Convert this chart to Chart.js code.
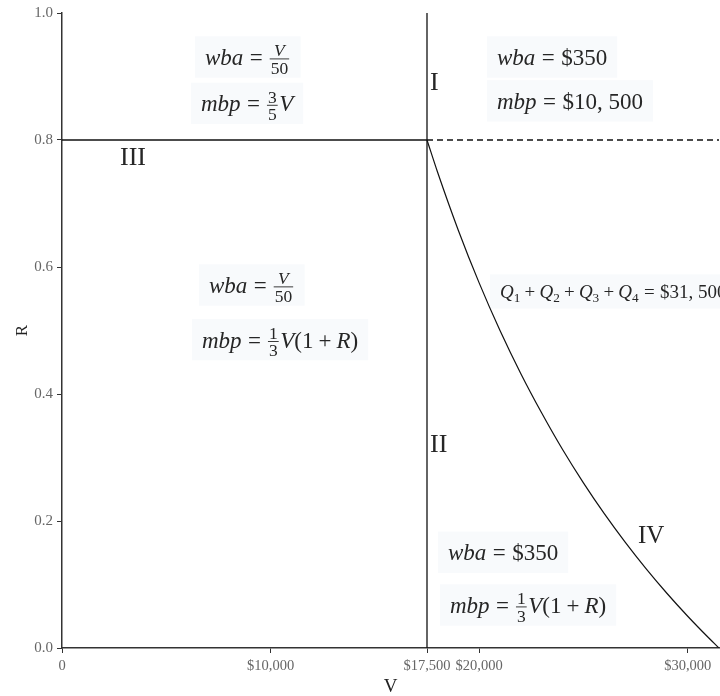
<!DOCTYPE html>
<html>
<head>
<meta charset="utf-8">
<script src="https://cdn.jsdelivr.net/npm/chart.js@4/dist/chart.umd.min.js"></script>
<style>
  html, body { margin: 0; padding: 0; background: #fff; }
  canvas { display: block; }
</style>
</head>
<body>
<canvas id="chart" width="720" height="696"></canvas>
<script>
const SERIF = '"Liberation Serif", "Times New Roman", serif';

const xTicks = [0, 10000, 17500, 20000, 30000];
const xTickLabels = ["0", "$10,000", "$17,500", "$20,000", "$30,000"];
const yTicks = [0, 0.2, 0.4, 0.6, 0.8, 1.0];
const vMax = 31500;
const vSplit = 17500;
const rSplit = 0.8;

// Q1+Q2+Q3+Q4 = $31,500 boundary
const curveV = [17500, 18000, 19000, 20000, 21000, 22000, 23000, 24000, 25000, 26000, 27000, 28000, 29000, 30000, 31000, 31500];
const curveR = [0.80, 0.75, 0.658, 0.575, 0.50, 0.432, 0.370, 0.3125, 0.26, 0.2115, 0.1667, 0.125, 0.0862, 0.05, 0.0161, 0.0];

// math snippets: i = italic, r = roman, op/bin = spaced operator, frac, sub
const wbaFrac = [["i", "wba"], ["op", "="], ["frac", "V", "50", true, false]];
const mbpThreeFifths = [["i", "mbp"], ["op", "="], ["frac", "3", "5"], ["i", "V"]];
const wbaFlat = [["i", "wba"], ["op", "="], ["r", "$350"]];
const mbpFlat = [["i", "mbp"], ["op", "="], ["r", "$10, 500"]];
const mbpThird = [["i", "mbp"], ["op", "="], ["frac", "1", "3"], ["i", "V"], ["r", "(1"], ["bin", "+"], ["i", "R"], ["r", ")"]];
const qSum = [["i", "Q"], ["sub", "1"], ["bin", "+"], ["i", "Q"], ["sub", "2"], ["bin", "+"],
  ["i", "Q"], ["sub", "3"], ["bin", "+"], ["i", "Q"], ["sub", "4"], ["op", "="], ["r", "$31, 500"]];

const labels = [
  { v: 6856, r: 0.918, size: 23, tokens: wbaFrac, box: true },
  { v: 6664, r: 0.845, size: 23, tokens: mbpThreeFifths, box: true },
  { v: 17644, r: 0.879, size: 26, tokens: [["r", "I"]] },
  { v: 20856, r: 0.918, size: 23, tokens: wbaFlat, box: true },
  { v: 20856, r: 0.849, size: 23, tokens: mbpFlat, box: true },
  { v: 2781, r: 0.761, size: 26, tokens: [["r", "III"]] },
  { v: 7048, r: 0.559, size: 23, tokens: wbaFrac, box: true },
  { v: 6712, r: 0.473, size: 23, tokens: mbpThird, box: true },
  { v: 17644, r: 0.308, size: 26, tokens: [["r", "II"]] },
  { v: 21000, r: 0.551, size: 19, tokens: qSum, box: true },
  { v: 27617, r: 0.165, size: 25, tokens: [["r", "IV"]] },
  { v: 18507, r: 0.138, size: 23, tokens: wbaFlat, box: true },
  { v: 18603, r: 0.055, size: 23, tokens: mbpThird, box: true },
];

function runMath(ctx, tokens, x, y, size, draw) {
  let cx = x;
  const small = size * 0.7;
  const fracSize = size * 0.76;
  for (const tk of tokens) {
    const kind = tk[0];
    if (kind === "i" || kind === "r") {
      ctx.font = (kind === "i" ? "italic " : "") + size + "px " + SERIF;
      if (draw) ctx.fillText(tk[1], cx, y);
      cx += ctx.measureText(tk[1]).width;
    } else if (kind === "op" || kind === "bin") {
      const gap = size * (kind === "op" ? 0.28 : 0.22);
      ctx.font = size + "px " + SERIF;
      cx += gap;
      if (draw) ctx.fillText(tk[1], cx, y);
      cx += ctx.measureText(tk[1]).width + gap;
    } else if (kind === "sub") {
      ctx.font = small + "px " + SERIF;
      if (draw) ctx.fillText(tk[1], cx, y + size * 0.2);
      cx += ctx.measureText(tk[1]).width;
    } else if (kind === "frac") {
      const fn = (tk[3] ? "italic " : "") + fracSize + "px " + SERIF;
      const fd = (tk[4] ? "italic " : "") + fracSize + "px " + SERIF;
      ctx.font = fn;
      const wn = ctx.measureText(tk[1]).width;
      ctx.font = fd;
      const wd = ctx.measureText(tk[2]).width;
      const w = Math.max(wn, wd) + 3;
      const axis = y - size * 0.27;
      if (draw) {
        ctx.font = fn;
        ctx.fillText(tk[1], cx + (w - wn) / 2, axis - 2.5);
        ctx.font = fd;
        ctx.fillText(tk[2], cx + (w - wd) / 2, axis + fracSize * 0.7 + 2.5);
        ctx.fillRect(cx + 0.5, axis - 0.4, w - 1, 0.9);
      }
      cx += w + 1;
    }
  }
  return cx - x;
}

const mathLabels = {
  id: "mathLabels",
  beforeDatasetsDraw(chart) {
    const { ctx, scales } = chart;
    ctx.save();
    ctx.fillStyle = "#f8fafc";
    for (const l of labels) {
      if (!l.box) continue;
      const x = scales.x.getPixelForValue(l.v);
      const y = scales.y.getPixelForValue(l.r);
      const w = runMath(ctx, l.tokens, x, y, l.size, false);
      ctx.fillRect(x - 10, y - l.size * 1.25, w + 20, l.size * 1.8);
    }
    ctx.restore();
  },
  afterDatasetsDraw(chart) {
    const { ctx, scales } = chart;
    ctx.save();
    ctx.fillStyle = "#262626";
    ctx.textBaseline = "alphabetic";
    ctx.textAlign = "left";
    for (const l of labels) {
      const x = scales.x.getPixelForValue(l.v);
      const y = scales.y.getPixelForValue(l.r);
      runMath(ctx, l.tokens, x, y, l.size, true);
    }
    ctx.restore();
  },
};

const lineStyle = { borderColor: "#111", borderWidth: 1.3, pointRadius: 0, showLine: true, fill: false };

new Chart(document.getElementById("chart"), {
  type: "scatter",
  data: {
    datasets: [
      { ...lineStyle, data: [{ x: vSplit, y: 0 }, { x: vSplit, y: 1 }] },
      { ...lineStyle, data: [{ x: 0, y: rSplit }, { x: vSplit, y: rSplit }] },
      { ...lineStyle, borderDash: [6, 4], data: [{ x: vSplit, y: rSplit }, { x: vMax, y: rSplit }] },
      { ...lineStyle, borderWidth: 1.2, cubicInterpolationMode: "monotone",
        data: curveV.map((v, i) => ({ x: v, y: curveR[i] })) },
    ],
  },
  options: {
    responsive: false,
    animation: false,
    layout: { padding: { top: 11, right: 1, left: 0, bottom: 0 } },
    plugins: { legend: { display: false }, tooltip: { enabled: false } },
    scales: {
      x: {
        type: "linear",
        min: 0,
        max: vMax,
        afterFit: (s) => { s.height = 48; },
        afterBuildTicks: (s) => { s.ticks = xTicks.map((v) => ({ value: v })); },
        grid: { drawOnChartArea: false, drawTicks: true, tickLength: 5, color: "#333" },
        border: { color: "#333", width: 1.5 },
        ticks: {
          padding: 4,
          maxRotation: 0,
          autoSkip: false,
          color: "#666",
          font: { family: SERIF, size: 14.5 },
          callback: (v) => xTickLabels[xTicks.indexOf(v)],
        },
        title: { display: true, text: "V", color: "#222", font: { family: SERIF, size: 19 }, padding: { top: 0, bottom: -2 } },
      },
      y: {
        type: "linear",
        min: 0,
        max: 1,
        afterFit: (s) => { s.width = 62; },
        afterBuildTicks: (s) => { s.ticks = yTicks.map((v) => ({ value: v })); },
        grid: { drawOnChartArea: false, drawTicks: true, tickLength: 5, color: "#333" },
        border: { color: "#333", width: 1.5 },
        ticks: {
          padding: 4,
          color: "#666",
          font: { family: SERIF, size: 15 },
          callback: (v) => v.toFixed(1),
        },
        title: { display: true, text: "R", color: "#222", font: { family: SERIF, size: 17 }, padding: { top: 12, bottom: 0 } },
      },
    },
  },
  plugins: [mathLabels],
});
</script>
</body>
</html>
